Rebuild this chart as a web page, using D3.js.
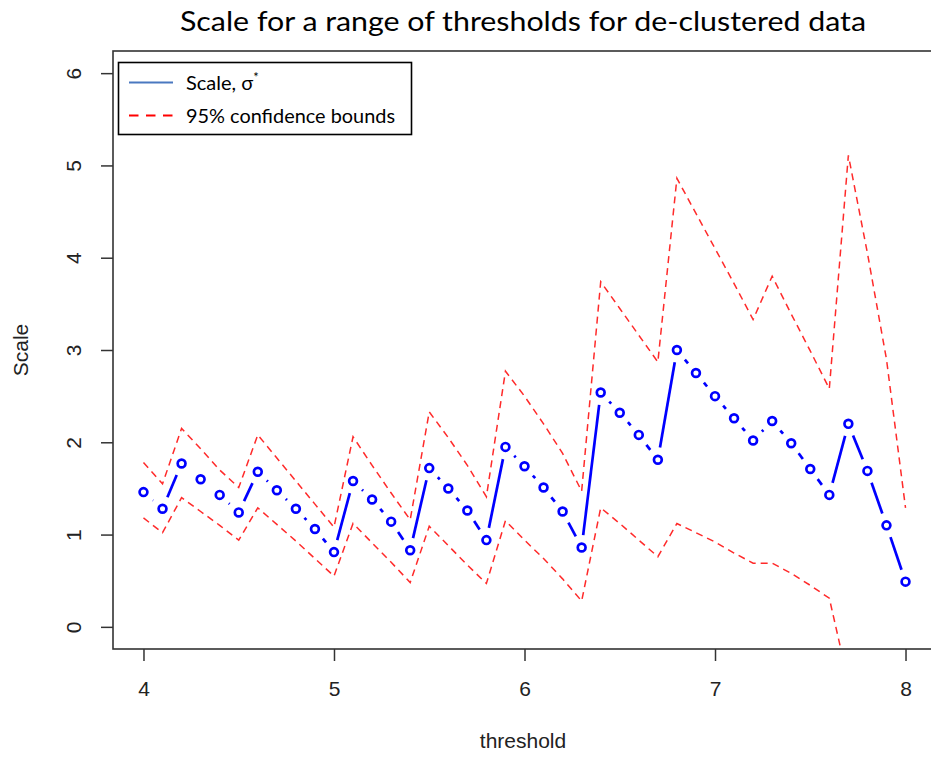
<!DOCTYPE html>
<html>
<head>
<meta charset="utf-8">
<script src="https://cdn.jsdelivr.net/npm/d3@7"></script>
<style>
  body { margin: 0; background: #fff; }
  svg { display: block; }
</style>
</head>
<body>
<svg id="chart" width="931" height="758"></svg>
<script>
// ---- data ----
const thresholds = [4.0,4.1,4.2,4.3,4.4,4.5,4.6,4.7,4.8,4.9,5.0,5.1,5.2,5.3,5.4,5.5,5.6,5.7,5.8,5.9,6.0,6.1,6.2,6.3,6.4,6.5,6.6,6.7,6.8,6.9,7.0,7.1,7.2,7.3,7.4,7.5,7.6,7.7,7.8,7.9,8.0];
const scaleValues = [1.46,1.28,1.77,1.60,1.43,1.24,1.68,1.48,1.28,1.06,0.81,1.58,1.38,1.14,0.83,1.72,1.50,1.26,0.94,1.95,1.74,1.51,1.25,0.86,2.54,2.32,2.08,1.81,3.00,2.75,2.50,2.26,2.02,2.23,1.99,1.71,1.43,2.20,1.69,1.10,0.49];
const upperBound = [1.78,1.55,2.15,1.93,1.70,1.51,2.08,1.83,1.58,1.33,1.08,2.06,1.75,1.45,1.16,2.33,2.05,1.75,1.41,2.77,2.50,2.20,1.88,1.47,3.74,3.45,3.16,2.87,4.86,4.48,4.10,3.72,3.33,3.80,3.39,2.99,2.58,5.11,4.05,2.90,1.29];
const lowerBound = [1.18,1.02,1.40,1.25,1.10,0.94,1.29,1.11,0.93,0.74,0.55,1.12,0.91,0.70,0.48,1.09,0.88,0.67,0.47,1.15,0.94,0.74,0.52,0.28,1.29,1.12,0.94,0.76,1.12,1.02,0.92,0.80,0.69,0.69,0.58,0.45,0.31,-0.60,-0.90,-1.20,-1.00];
const xTicks = [4,5,6,7,8];
const yTicks = [0,1,2,3,4,5,6];
const titleText = "Scale for a range of thresholds for de-clustered data";
const xLabel = "threshold";
const yLabel = "Scale";
const legendLabels = ["Scale, σ", "95% confidence bounds"];

// ---- layout ----
const svg = d3.select("#chart");
const plot = {left: 113, right: 936, top: 51, bottom: 649};
const x = d3.scaleLinear().domain([3.84, 8.16]).range([plot.left, plot.right]);
const y = d3.scaleLinear().domain([-0.24, 6.24]).range([plot.bottom, plot.top]);

svg.append("defs").append("clipPath").attr("id", "clip")
  .append("rect").attr("x", plot.left).attr("y", plot.top)
  .attr("width", plot.right - plot.left).attr("height", plot.bottom - plot.top);

const calFont = "Lato, 'Open Sans', 'Noto Sans', sans-serif";
// title
svg.append("text")
  .attr("x", 523).attr("y", 31)
  .attr("text-anchor", "middle")
  .attr("font-family", calFont)
  .attr("font-size", 27)
  .attr("fill", "#000")
  .attr("textLength", 686).attr("lengthAdjust", "spacingAndGlyphs")
  .text(titleText);

// axes
const axisFont = "'Liberation Sans', Arial, sans-serif";
const xAxis = svg.append("g")
  .attr("transform", `translate(0,${plot.bottom})`)
  .call(d3.axisBottom(x).tickValues(xTicks).tickFormat(d3.format("d")).tickSize(12).tickSizeOuter(0));
xAxis.select(".domain").remove();
xAxis.selectAll(".tick line").attr("stroke", "#333").attr("stroke-width", 1.5);
xAxis.selectAll(".tick text").attr("y", 46.5).attr("dy", null)
  .attr("font-family", axisFont).attr("font-size", 21).attr("fill", "#222");

const yAxis = svg.append("g")
  .attr("transform", `translate(${plot.left},0)`)
  .call(d3.axisLeft(y).tickValues(yTicks).tickFormat(d3.format("d")).tickSize(12).tickSizeOuter(0));
yAxis.select(".domain").remove();
yAxis.selectAll(".tick line").attr("stroke", "#333").attr("stroke-width", 1.5);
yAxis.selectAll(".tick text")
  .attr("x", null).attr("dy", null)
  .attr("text-anchor", "middle")
  .attr("transform", "translate(-32,0) rotate(-90)")
  .attr("font-family", axisFont).attr("font-size", 21).attr("fill", "#222");

// axis labels
svg.append("text").attr("x", 523).attr("y", 748).attr("text-anchor", "middle")
  .attr("font-family", axisFont).attr("font-size", 21).attr("fill", "#222").text(xLabel);
svg.append("text").attr("transform", "translate(28,350) rotate(-90)").attr("text-anchor", "middle")
  .attr("font-family", axisFont).attr("font-size", 21).attr("fill", "#222").text(yLabel);

// plot box
svg.append("rect")
  .attr("x", plot.left).attr("y", plot.top)
  .attr("width", plot.right - plot.left).attr("height", plot.bottom - plot.top)
  .attr("fill", "none").attr("stroke", "#333").attr("stroke-width", 1.6);

const g = svg.append("g").attr("clip-path", "url(#clip)");

// confidence bounds
const line = d3.line().x((d, i) => x(thresholds[i])).y(d => y(d));
[upperBound, lowerBound].forEach(arr => {
  g.append("path").datum(arr).attr("d", line)
    .attr("fill", "none").attr("stroke", "#ff2a2a").attr("stroke-width", 1.5)
    .attr("stroke-dasharray", "7,5");
});

// scale: R type="b" — segments with gaps around points
const gap = 12.5;
const pts = thresholds.map((t, i) => [x(t), y(scaleValues[i])]);
const segs = [];
for (let i = 0; i < pts.length - 1; i++) {
  const [x0, y0] = pts[i], [x1, y1] = pts[i + 1];
  const dx = x1 - x0, dy = y1 - y0, L = Math.hypot(dx, dy);
  if (L > 2 * gap) {
    const ux = dx / L, uy = dy / L;
    segs.push([x0 + ux * gap, y0 + uy * gap, x1 - ux * gap, y1 - uy * gap]);
  }
}
g.selectAll("line.seg").data(segs).join("line").attr("class", "seg")
  .attr("x1", d => d[0]).attr("y1", d => d[1]).attr("x2", d => d[2]).attr("y2", d => d[3])
  .attr("stroke", "#0000ff").attr("stroke-width", 2.7);
g.selectAll("circle.pt").data(thresholds).join("circle").attr("class", "pt")
  .attr("cx", (d) => x(d)).attr("cy", (d, i) => y(scaleValues[i]))
  .attr("r", 3.9).attr("fill", "none").attr("stroke", "#0000ff").attr("stroke-width", 2.7);

// legend
const lg = svg.append("g");
lg.append("rect").attr("x", 118.5).attr("y", 62.5).attr("width", 293).attr("height", 72)
  .attr("fill", "#fff").attr("stroke", "#000").attr("stroke-width", 1.6);
lg.append("line").attr("x1", 129).attr("x2", 173).attr("y1", 82.5).attr("y2", 82.5)
  .attr("stroke", "#4a78c0").attr("stroke-width", 2.2);
lg.append("line").attr("x1", 129).attr("x2", 173).attr("y1", 115.5).attr("y2", 115.5)
  .attr("stroke", "#ff0000").attr("stroke-width", 2.2).attr("stroke-dasharray", "9.5,7.5");
const t1 = lg.append("text").attr("x", 186).attr("y", 89.5)
  .attr("font-family", calFont).attr("font-size", 20).attr("fill", "#000");
t1.append("tspan").text(legendLabels[0]);
t1.append("tspan").attr("dy", -8).attr("font-size", 13).text("*");
lg.append("text").attr("x", 186).attr("y", 122.5)
  .attr("font-family", calFont).attr("font-size", 20).attr("fill", "#000")
  .attr("textLength", 209).attr("lengthAdjust", "spacingAndGlyphs")
  .text(legendLabels[1]);
</script>
</body>
</html>
